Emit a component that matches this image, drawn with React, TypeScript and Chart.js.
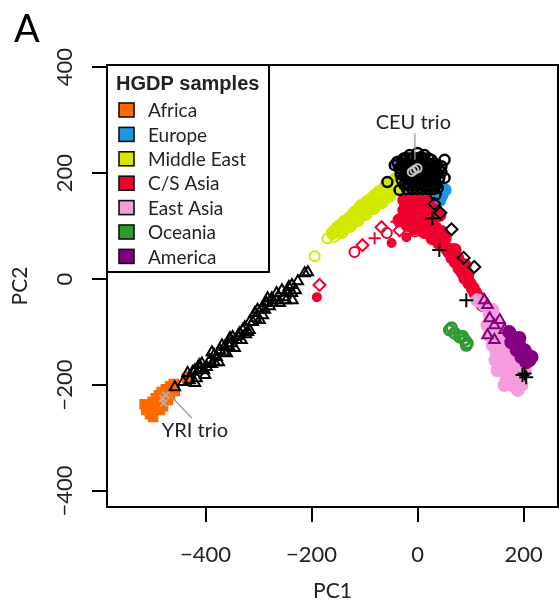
import React, { useEffect, useRef } from 'react';
import { Chart, registerables } from 'chart.js';

Chart.register(...registerables);

const X_TICKS = [-400, -200, 0, 200];
const X_TICK_LABELS = ['−400', '−200', '0', '200'];
const Y_TICKS = [-400, -200, 0, 200, 400];
const Y_TICK_LABELS = ['−400', '−200', '0', '200', '400'];
const X_MIN = -586;
const X_MAX = 265;
const Y_MIN = -430;
const Y_MAX = 404;

const GROUPS = ['Africa', 'Europe', 'Middle East', 'C/S Asia', 'East Asia', 'Oceania', 'America'];
const GROUP_COLORS = ['#ff6a00', '#1e96e0', '#d2e800', '#f0002e', '#f59ddc', '#2f9a2f', '#82007f'];

type P = [number, number];

const AFRICA: P[] = [[-509,-242],[-505,-249],[-500,-232],[-494,-225],[-488,-219],[-483,-213],[-475,-208],[-467,-202],[-460,-198],[-494,-242],[-484,-234],[-477,-226],[-467,-219],[-458,-211],[-486,-247],[-501,-253],[-515,-236],[-471,-228],[-435,-187],[-430,-183],[-512,-247],[-480,-240],[-490,-230],[-499,-260],[-505,-255]];
const EUROPE: P[] = [[-38,219],[-30,206],[-2,174],[9,162],[28,155],[41,149],[19,172],[-15,187],[51,168],[4,153],[35,165],[-20,195],[20,158],[-8,165],[45,158]];
const MIDDLE_EAST: P[] = [[-160,87],[-151,96],[-138,108],[-128,115],[-119,125],[-109,134],[-100,140],[-90,149],[-81,157],[-72,164],[-62,172],[-53,179],[-43,187],[-143,89],[-128,100],[-113,111],[-98,123],[-83,134],[-68,145],[-53,157],[-38,172],[-106,138],[-75,157],[-34,191],[-147,100],[-122,120],[-95,145],[-60,165]];
const MIDDLE_EAST_OPEN: P[] = [[-194,43],[-170,77],[-157,80]];
const CS_ASIA: P[] = [[-25,149],[-11,153],[4,149],[19,145],[32,130],[41,121],[-6,134],[13,126],[26,111],[-15,121],[4,111],[19,102],[34,96],[45,89],[51,77],[-6,96],[13,89],[28,77],[41,68],[55,58],[60,51],[66,40],[72,32],[79,21],[85,13],[90,2],[98,-8],[104,-17],[109,-26],[117,-36],[123,-49],[75,40],[89,26],[94,8],[70,55],[-25,130],[-34,111],[-19,102]];
const CS_ASIA_DIAMOND: P[] = [[-104,64],[-68,98],[-185,-11],[-34,92]];
const CS_ASIA_CIRCLE: P[] = [[-119,51],[-58,87],[-5,90]];
const CS_ASIA_PLUS: P[] = [[-81,77],[-40,108]];
const CS_ASIA_DOT: P[] = [[-49,68],[-21,79],[-190,-34]];
const EAST_ASIA: P[] = [[126,-49],[136,-68],[145,-81],[155,-96],[160,-111],[166,-125],[173,-138],[179,-149],[185,-162],[189,-175],[192,-191],[183,-200],[170,-172],[155,-143],[145,-125],[136,-106],[151,-87],[164,-106],[177,-125],[189,-143],[196,-157],[202,-172],[173,-181],[164,-153],[132,-87],[141,-58],[113,-40],[121,-43],[196,-200],[149,-138],[155,-157],[161,-172],[168,-187],[178,-200],[189,-209],[164,-200],[151,-172],[147,-153],[158,-134],[142,-125]];
const AMERICA: P[] = [[173,-100],[183,-111],[192,-125],[202,-134],[207,-143],[211,-153],[196,-147],[187,-134],[177,-119],[215,-147],[205,-157],[192,-111]];
const AMERICA_OPEN: P[] = [[136,-74],[145,-87],[155,-77],[132,-106],[145,-115],[164,-96],[126,-40],[132,-49]];
const OCEANIA: P[] = [[60,-96],[70,-102],[79,-109],[89,-115],[94,-121],[64,-92],[85,-108],[92,-125]];

const REF_TRIANGLE: P[] = [[-458,-204],[-434,-177],[-417,-187],[-420,-172],[-407,-159],[-398,-166],[-392,-153],[-379,-147],[-373,-134],[-364,-128],[-360,-140],[-351,-121],[-349,-109],[-341,-115],[-336,-102],[-326,-91],[-320,-100],[-317,-81],[-307,-64],[-302,-58],[-292,-68],[-285,-45],[-283,-36],[-273,-45],[-266,-26],[-260,-45],[-256,-21],[-247,-25],[-237,-11],[-236,-40],[-237,-26],[-213,11],[-207,13],[-388,-138],[-369,-125],[-354,-111],[-330,-96],[-383,-157],[-411,-168],[-430,-191],[-442,-194],[-424,-175],[-412,-162],[-403,-172],[-388,-160],[-384,-143],[-375,-157],[-365,-138],[-356,-126],[-345,-130],[-339,-108],[-332,-115],[-324,-104],[-317,-96],[-311,-81],[-306,-74],[-298,-77],[-294,-55],[-288,-58],[-279,-51],[-275,-36],[-267,-40],[-252,-34],[-243,-15],[-230,-21],[-226,-4],[-248,-40],[-401,-181],[-420,-196]];
const REF_CIRCLE: P[] = [[-25,228],[-15,234],[0,238],[13,234],[26,225],[36,215],[45,202],[41,191],[32,181],[19,175],[4,179],[-11,187],[-25,196],[-34,209],[-38,221],[-28,225],[-43,215],[51,191],[38,172],[-57,183],[-34,168],[51,225],[34,159],[45,213],[-13,227],[6,230],
  [-20,170],[-10,170],[0,170],[10,170],[20,170],[30,170],
  [-25,178],[-15,178],[-5,178],[5,178],[15,178],[25,178],[35,178],
  [-30,188],[-20,188],[-10,188],[0,188],[10,188],[20,188],[30,188],[40,188],
  [-32,198],[-22,198],[-12,198],[-2,198],[8,198],[18,198],[28,198],[38,198],
  [-30,208],[-20,208],[-10,208],[0,208],[10,208],[20,208],[30,208],[40,208],
  [-28,218],[-18,218],[-8,218],[2,218],[12,218],[22,218],[32,218],
  [-20,228],[-10,228],[0,228],[10,228],[20,228]];
const REF_DIAMOND: P[] = [[32,142],[43,125],[64,94],[87,40],[107,23]];
const REF_PLUS: P[] = [[28,115],[41,55],[92,-40],[198,-181],[205,-185],[202,-178]];
const CEU_TRIO: P[] = [[-6,206],[0,209],[-11,202]];
const YRI_TRIO: P[] = [[-481,-225],[-475,-219],[-479,-234]];

const CEU_LABEL = { text: 'CEU trio', x: -8, y: 296 };
const CEU_LINE: P[] = [[-5, 275], [-5, 225]];
const YRI_LABEL = { text: 'YRI trio', x: -420, y: -285 };
const YRI_LINE: P[] = [[-471, -215], [-426, -262]];

const LEGEND_TITLE = 'HGDP samples';
const PANEL_LETTER = 'A';

const pts = (a: P[]) => a.map(([x, y]) => ({ x, y }));

function ds(data: P[], opts: any) {
  return {
    type: 'scatter',
    data: pts(data),
    pointRadius: 5,
    pointBorderWidth: 2,
    pointHoverRadius: 5,
    showLine: false,
    ...opts,
  };
}

const decor = {
  id: 'decor',
  afterDraw(chart: any) {
    const { ctx, chartArea: a, scales } = chart;
    const sx = scales.x;
    const sy = scales.y;
    ctx.save();
    // annotation lines
    ctx.strokeStyle = '#9c9c9c';
    ctx.lineWidth = 1.3;
    for (const line of [CEU_LINE, YRI_LINE]) {
      ctx.beginPath();
      ctx.moveTo(sx.getPixelForValue(line[0][0]), sy.getPixelForValue(line[0][1]));
      ctx.lineTo(sx.getPixelForValue(line[1][0]), sy.getPixelForValue(line[1][1]));
      ctx.stroke();
    }
    ctx.fillStyle = '#222';
    ctx.font = '20px Lato';
    ctx.textAlign = 'center';
    ctx.textBaseline = 'middle';
    for (const lab of [CEU_LABEL, YRI_LABEL]) {
      ctx.fillText(lab.text, sx.getPixelForValue(lab.x), sy.getPixelForValue(lab.y));
    }
    // legend
    const lx = a.left;
    const ly = a.top;
    ctx.fillStyle = '#fff';
    ctx.fillRect(lx, ly, 162, 207);
    ctx.strokeStyle = '#000';
    ctx.lineWidth = 2;
    ctx.strokeRect(lx, ly, 162, 207);
    ctx.fillStyle = '#222';
    ctx.textAlign = 'left';
    ctx.font = 'bold 20px "Liberation Sans"';
    ctx.fillText(LEGEND_TITLE, lx + 9, ly + 19);
    ctx.font = '19px Lato';
    GROUPS.forEach((g, i) => {
      const cy = ly + 45 + i * 24.4;
      ctx.fillStyle = GROUP_COLORS[i];
      ctx.fillRect(lx + 12, cy - 7, 15, 14);
      ctx.strokeStyle = '#111';
      ctx.lineWidth = 1.6;
      ctx.strokeRect(lx + 12, cy - 7, 15, 14);
      ctx.fillStyle = '#222';
      ctx.fillText(g, lx + 41, cy + 1);
    });
    // plot box
    ctx.strokeStyle = '#000';
    ctx.lineWidth = 2;
    ctx.strokeRect(a.left, a.top, a.right - a.left, a.bottom - a.top);
    // tick labels (R style)
    ctx.fillStyle = '#222';
    ctx.font = '22px Lato';
    ctx.textAlign = 'center';
    ctx.textBaseline = 'middle';
    X_TICKS.forEach((v, i) => {
      ctx.fillText(X_TICK_LABELS[i], sx.getPixelForValue(v), a.bottom + 48);
    });
    Y_TICKS.forEach((v, i) => {
      ctx.save();
      ctx.translate(65, sy.getPixelForValue(v));
      ctx.rotate(-Math.PI / 2);
      ctx.fillText(Y_TICK_LABELS[i], 0, 0);
      ctx.restore();
    });
    // panel letter
    ctx.font = '38px Lato';
    ctx.textAlign = 'left';
    ctx.textBaseline = 'alphabetic';
    ctx.fillStyle = '#000';
    ctx.fillText(PANEL_LETTER, 14, 42);
    ctx.restore();
  },
};

export default function App() {
  const ref = useRef<HTMLCanvasElement>(null);
  useEffect(() => {
    if (!ref.current) return;
    const open = 'rgba(0,0,0,0)';
    const [cAf, cEu, cMe, cCs, cEa, cOc, cAm] = GROUP_COLORS;
    const chart = new Chart(ref.current, {
      type: 'scatter',
      data: {
        datasets: [
          ds(CEU_TRIO, { order: 0, pointStyle: 'circle', borderColor: '#c4c4c4', backgroundColor: open, pointRadius: 4 }),
          ds(YRI_TRIO, { order: 0, pointStyle: 'crossRot', borderColor: '#b9aea3', backgroundColor: open, pointRadius: 5 }),
          ds(REF_PLUS, { order: 1, pointStyle: 'cross', borderColor: '#000', backgroundColor: open, pointRadius: 7 }),
          ds(REF_DIAMOND, { order: 1, pointStyle: 'rectRot', borderColor: '#000', backgroundColor: open, pointRadius: 6 }),
          ds(REF_CIRCLE, { order: 2, pointStyle: 'circle', borderColor: '#000', backgroundColor: open, pointRadius: 5, pointBorderWidth: 2.5 }),
          ds(REF_TRIANGLE, { order: 3, pointStyle: 'triangle', borderColor: '#000', backgroundColor: open, pointRadius: 6, pointBorderWidth: 2 }),
          ds(CS_ASIA_DIAMOND, { order: 4, pointStyle: 'rectRot', borderColor: cCs, backgroundColor: open, pointRadius: 6 }),
          ds(CS_ASIA_CIRCLE, { order: 4, pointStyle: 'circle', borderColor: cCs, backgroundColor: open, pointRadius: 5 }),
          ds(CS_ASIA_PLUS, { order: 4, pointStyle: 'cross', borderColor: cCs, backgroundColor: open, pointRadius: 6 }),
          ds(CS_ASIA_DOT, { order: 4, pointStyle: 'circle', borderColor: cCs, backgroundColor: cCs, pointRadius: 4 }),
          ds(MIDDLE_EAST_OPEN, { order: 4, pointStyle: 'circle', borderColor: cMe, backgroundColor: open, pointRadius: 5 }),
          ds(OCEANIA, { order: 4, pointStyle: 'circle', borderColor: cOc, backgroundColor: open, pointRadius: 5, pointBorderWidth: 3 }),
          ds(AMERICA_OPEN, { order: 5, pointStyle: 'triangle', borderColor: cAm, backgroundColor: open, pointRadius: 6 }),
          ds(AMERICA, { order: 5, pointStyle: 'circle', borderColor: cAm, backgroundColor: cAm, pointRadius: 6 }),
          ds(EAST_ASIA, { order: 6, pointStyle: 'circle', borderColor: cEa, backgroundColor: cEa, pointRadius: 6 }),
          ds(CS_ASIA, { order: 6, pointStyle: 'circle', borderColor: cCs, backgroundColor: cCs, pointRadius: 6 }),
          ds(EUROPE, { order: 7, pointStyle: 'circle', borderColor: cEu, backgroundColor: cEu, pointRadius: 6 }),
          ds(MIDDLE_EAST, { order: 7, pointStyle: 'circle', borderColor: cMe, backgroundColor: cMe, pointRadius: 6 }),
          ds(AFRICA, { order: 7, pointStyle: 'rect', borderColor: cAf, backgroundColor: cAf, pointRadius: 6 }),
        ] as any,
      },
      options: {
        responsive: false,
        animation: false,
        events: [],
        layout: { autoPadding: false, padding: { top: 65, right: 2, bottom: 0, left: 0 } },
        plugins: { legend: { display: false }, tooltip: { enabled: false } },
        scales: {
          x: {
            type: 'linear',
            position: 'bottom',
            min: X_MIN,
            max: X_MAX,
            afterFit: (s: any) => { s.height = 101; s.paddingLeft = 0; s.paddingRight = 0; },
            afterBuildTicks: (s: any) => { s.ticks = X_TICKS.map((v) => ({ value: v })); },
            ticks: { display: false },
            grid: { drawOnChartArea: false, drawTicks: true, tickLength: 15, lineWidth: 2, color: '#000' },
            border: { display: false },
            title: { display: true, text: 'PC1', font: { family: 'Lato', size: 21 }, color: '#222', padding: { top: 0, bottom: 4 } },
          },
          y: {
            type: 'linear',
            position: 'left',
            min: Y_MIN,
            max: Y_MAX,
            afterFit: (s: any) => { s.width = 107; },
            afterBuildTicks: (s: any) => { s.ticks = Y_TICKS.map((v) => ({ value: v })); },
            ticks: { display: false },
            grid: { drawOnChartArea: false, drawTicks: true, tickLength: 15, lineWidth: 2, color: '#000' },
            border: { display: false },
            title: { display: true, text: 'PC2', font: { family: 'Lato', size: 21 }, color: '#222', padding: { top: 8, bottom: 0 } },
          },
        },
      } as any,
      plugins: [decor],
    });
    return () => chart.destroy();
  }, []);
  return (
    <div style={{ position: 'fixed', left: 0, top: 0, width: 560, height: 608, background: '#fff' }}>
      <canvas ref={ref} width={560} height={608} />
    </div>
  );
}
